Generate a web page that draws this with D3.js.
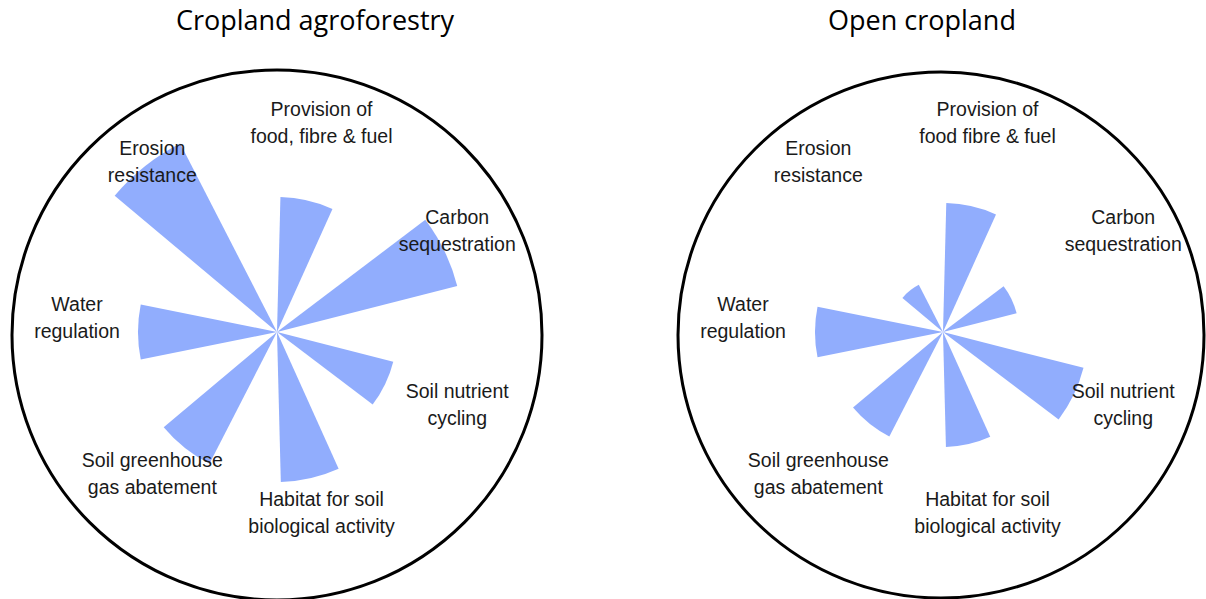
<!DOCTYPE html>
<html>
<head>
<meta charset="utf-8">
<script src="https://cdn.jsdelivr.net/npm/d3@7"></script>
<style>
  html, body { margin: 0; padding: 0; background: #ffffff; }
  svg { display: block; }
</style>
</head>
<body>
<svg id="chart" width="1206" height="599"></svg>
<script>
// ---- data ----
const categories = ["Provision", "Carbon", "Nutrient", "Habitat", "Greenhouse", "Water", "Erosion"];
const agroforestryLabels = [
  ["Provision of", "food, fibre & fuel"],
  ["Carbon", "sequestration"],
  ["Soil nutrient", "cycling"],
  ["Habitat for soil", "biological activity"],
  ["Soil greenhouse", "gas abatement"],
  ["Water", "regulation"],
  ["Erosion", "resistance"]
];
const openLabels = [
  ["Provision of", "food fibre & fuel"],
  ["Carbon", "sequestration"],
  ["Soil nutrient", "cycling"],
  ["Habitat for soil", "biological activity"],
  ["Soil greenhouse", "gas abatement"],
  ["Water", "regulation"],
  ["Erosion", "resistance"]
];
const agroforestryValues = [67.5, 93, 60, 75, 74, 69.5, 106];
const openValues = [64.5, 38, 72.5, 57.5, 58.75, 64, 26.5];
const titles = ["Cropland agroforestry", "Open cropland"];

// ---- drawing ----
const svg = d3.select("#chart");
const angle = d3.scaleBand()
  .domain(categories)
  .range([-Math.PI / 14, 2 * Math.PI - Math.PI / 14])
  .paddingInner(0.5567)
  .paddingOuter(0.5567 / 2);
const radius = d3.scaleLinear().domain([0, 100]).range([0, 200]);
const labelR = 200;

const panels = [
  { title: titles[0], titleX: 315, cx: 277, cy: 332, ccx: 277, ccy: 335, cr: 265, values: agroforestryValues, labels: agroforestryLabels },
  { title: titles[1], titleX: 922, cx: 943, cy: 332, ccx: 941, ccy: 335, cr: 263, values: openValues, labels: openLabels }
];

panels.forEach(p => {
  svg.append("text")
    .attr("x", p.titleX).attr("y", 30)
    .attr("text-anchor", "middle")
    .attr("font-family", "'Open Sans', sans-serif")
    .attr("font-size", 27)
    .attr("fill", "#000")
    .text(p.title);

  svg.append("circle")
    .attr("cx", p.ccx).attr("cy", p.ccy).attr("r", p.cr)
    .attr("fill", "none").attr("stroke", "#000").attr("stroke-width", 3);

  const g = svg.append("g").attr("transform", `translate(${p.cx},${p.cy})`);
  const arc = d3.arc().innerRadius(0);
  g.selectAll("path.wedge")
    .data(categories.map((c, i) => ({ c, v: p.values[i] })))
    .join("path")
    .attr("class", "wedge")
    .attr("fill", "#91adfd")
    .attr("d", d => arc({
      outerRadius: radius(d.v),
      startAngle: angle(d.c),
      endAngle: angle(d.c) + angle.bandwidth()
    }));

  const lab = g.selectAll("g.label")
    .data(categories.map((c, i) => ({ c, lines: p.labels[i] })))
    .join("g")
    .attr("class", "label")
    .attr("transform", d => {
      const a = angle(d.c) + angle.bandwidth() / 2;
      return `translate(${labelR * Math.sin(a)},${-labelR * Math.cos(a)})`;
    });
  lab.selectAll("text")
    .data(d => d.lines)
    .join("text")
    .attr("x", 0)
    .attr("y", (d, i) => i === 0 ? -21 : 6)
    .attr("text-anchor", "middle")
    .attr("font-family", "'Liberation Sans', Arial, sans-serif")
    .attr("font-size", 19.5)
    .attr("fill", "#1a1a1a")
    .text(d => d);
});
</script>
</body>
</html>
